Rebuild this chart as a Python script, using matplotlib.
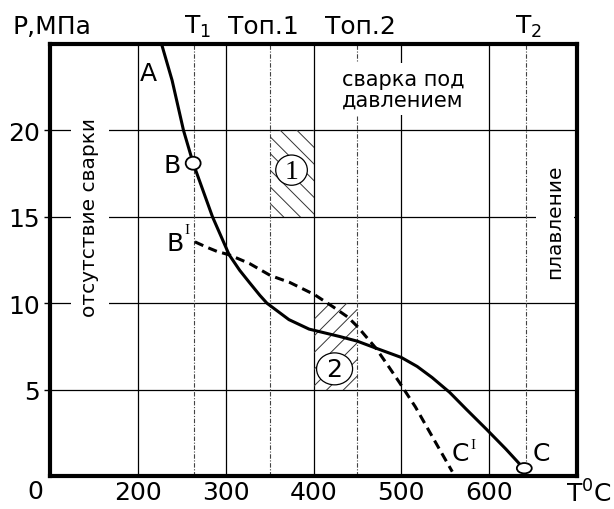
import matplotlib
matplotlib.use("Agg")
import matplotlib.pyplot as plt
from matplotlib.patches import Rectangle, Ellipse

plt.rcParams['font.family'] = ['DejaVu Sans']
plt.rcParams['hatch.linewidth'] = 0.7
plt.rcParams['mathtext.fontset'] = 'dejavusans'

# ---- data ----
x_ticks = [200, 300, 400, 500, 600]
y_ticks = [5, 10, 15, 20]
x_tick_labels = ["200", "300", "400", "500", "600"]
y_tick_labels = ["5", "10", "15", "20"]

# solid curve A-B-C
curve_T = [227, 239, 252, 263, 285, 304, 316, 327, 339, 347, 372, 395, 430, 450,
           471, 500, 518, 535, 555, 574, 597, 619, 640]
curve_P = [25.0, 22.9, 20.0, 18.1, 15.0, 12.8, 11.9, 11.2, 10.45, 10.0, 9.05,
           8.5, 8.07, 7.8, 7.4, 6.86, 6.34, 5.7, 4.84, 3.86, 2.7, 1.56, 0.4]

# dashed curve B'-C'
dash_T = [265, 278, 290, 304, 327, 351, 373, 401, 422, 439, 450, 471, 486, 498,
          516, 535, 558]
dash_P = [13.55, 13.25, 13.0, 12.8, 12.3, 11.6, 11.2, 10.5, 9.8, 9.2, 8.65, 7.4,
          6.3, 5.4, 4.0, 2.3, 0.25]

# characteristic temperatures
T1, Top1, Top2, T2 = 264, 350, 450, 642
# hatched zones: (T_left, T_right, P_low, P_high)
zone1 = (350, 400, 15, 20)
zone2 = (400, 450, 5, 10)
pointB = (263, 18.1)
pointC = (640, 0.45)

# ---- figure ----
fig = plt.figure(figsize=(6.14, 5.10), dpi=100)
ax = fig.add_axes([50/614, 1-477/510, 527/614, 432/510])
ax.set_xlim(100, 700)
ax.set_ylim(0, 25)

for s in ax.spines.values():
    s.set_linewidth(3.0)
    s.set_zorder(10)

ax.set_xticks(x_ticks)
ax.set_xticklabels(x_tick_labels)
ax.set_yticks(y_ticks)
ax.set_yticklabels(y_tick_labels)
ax.tick_params(axis='x', length=0, pad=3, labelsize=18)
ax.tick_params(axis='y', length=4, width=1, direction='out', pad=3, labelsize=18)
ax.grid(True, color='black', lw=0.9, zorder=1)
ax.set_axisbelow(True)

# dotted vertical lines
for xv in (T1, Top1, Top2, T2):
    ax.axvline(xv, color='#444444', lw=0.8, ls=(0, (4, 1.5, 1, 1.5)), zorder=1)

# hatched zones
for (x0, x1, y0, y1), h in ((zone1, '\\\\'), (zone2, '//')):
    ax.add_patch(Rectangle((x0, y0), x1 - x0, y1 - y0, fill=False, hatch=h,
                           edgecolor='#333333', lw=0, zorder=2))

# zone labels
ax.add_patch(Ellipse((375, 17.7), 36, 1.75, fc='white', ec='black', lw=0.9, zorder=4))
ax.text(375, 17.65, '1', family='Liberation Serif', fontsize=20, ha='center',
        va='center', zorder=5)
ax.add_patch(Ellipse((424, 6.2), 41, 1.85, fc='white', ec='black', lw=0.9, zorder=4))
ax.text(424, 6.2, '2', fontsize=18, ha='center', va='center', zorder=5)

# curves
ax.plot(curve_T, curve_P, color='black', lw=2.2, zorder=3, solid_joinstyle='round')
ax.plot(dash_T, dash_P, color='black', lw=2.2, ls=(0, (3, 1.8)), zorder=3)

# points B and C
ax.add_patch(Ellipse(pointB, 17, 0.75, fc='white', ec='black', lw=1.3, zorder=6))
ax.add_patch(Ellipse(pointC, 17, 0.6, fc='white', ec='black', lw=1.3, zorder=6,
                     clip_on=False))

# point letters
ax.text(212.5, 23.3, 'A', fontsize=18, ha='center', va='center')
ax.text(239, 18.0, 'B', fontsize=18, ha='center', va='center')
ax.text(242.5, 13.5, 'B', fontsize=18, ha='center', va='center')
ax.text(255.5, 14.25, 'I', family='Liberation Serif', fontsize=11, ha='center', va='center')
ax.text(567, 1.35, 'C', fontsize=18, ha='center', va='center')
ax.text(581, 1.85, 'I', family='Liberation Serif', fontsize=11, ha='center', va='center')
ax.text(659, 1.35, 'C', fontsize=18, ha='center', va='center')

# region texts
ax.text(145.5, 15.0, 'отсутствие сварки', rotation=90, fontsize=14.5,
        ha='center', va='center', zorder=4,
        bbox=dict(boxstyle='square,pad=0.45', fc='white', ec='none'))
ax.text(675, 14.8, 'плавление', rotation=90, fontsize=14.5,
        ha='center', va='center', zorder=4,
        bbox=dict(boxstyle='square,pad=0.45', fc='white', ec='none'))
ax.text(432, 22.4, 'сварка под\nдавлением', fontsize=15, ha='left', va='center',
        linespacing=1.05, zorder=4,
        bbox=dict(boxstyle='square,pad=0.25', fc='white', ec='none'))

# top labels
ytop = 26.05
ax.text(57, ytop, 'P,МПа', fontsize=18, ha='left', va='center', clip_on=False)
ax.text(268, ytop, r'T$_1$', fontsize=18, ha='center', va='center', clip_on=False)
ax.text(343, ytop, 'Топ.1', fontsize=18, ha='center', va='center', clip_on=False)
ax.text(453, ytop, 'Топ.2', fontsize=18, ha='center', va='center', clip_on=False)
ax.text(645, ytop, r'T$_2$', fontsize=18, ha='center', va='center', clip_on=False)

# bottom corner labels
fig.text(35/614, 1-492/510, '0', fontsize=18, ha='center', va='center')
fig.text(589/614, 1-494/510, r'T$^0$C', fontsize=18, ha='center', va='center')

fig.savefig('out.png', dpi=100)
